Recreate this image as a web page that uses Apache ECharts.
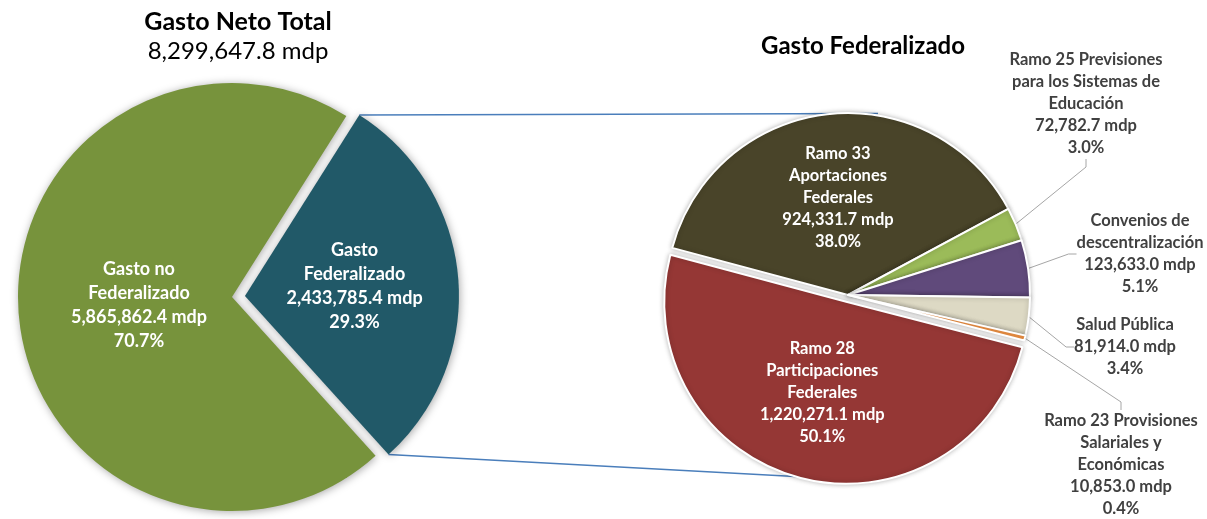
<!DOCTYPE html>
<html>
<head>
<meta charset="utf-8">
<script src="https://cdn.jsdelivr.net/npm/echarts@6/dist/echarts.min.js"></script>
<style>
  html, body { margin: 0; padding: 0; background: #fff; }
  #chart { width: 1207px; height: 519px; }
</style>
</head>
<body>
<div id="chart"></div>
<script>
// Gasto Neto Total (mdp)
const totalNames = ['Gasto\nFederalizado', 'Gasto no\nFederalizado']
const totalValues = [2433785.4, 5865862.4]

// Gasto Federalizado (mdp)
const fedNames = [
  'Ramo 33\nAportaciones\nFederales',
  'Ramo 25 Previsiones\npara los Sistemas de\nEducación',
  'Convenios de\ndescentralización',
  'Salud Pública',
  'Ramo 23 Provisiones\nSalariales y\nEconómicas',
  'Ramo 28\nParticipaciones\nFederales'
]
const fedValues = [924331.7, 72782.7, 123633.0, 81914.0, 10853.0, 1220271.1]

const leftColors = ['#215968', '#77933C']
const fedColors = ['#494429', '#9BBB59', '#604A7B', '#DDD9C4', '#F79646', '#953735']

// where each label sits (layout only)
const leftSpots = [[353, 297], [139, 305]]
const fedSpots = [[838, 198], [1086, 104], [1140, 254], [1125, 347], [1121, 465], [811, 390]]

const LEFT = { c: [232, 297], r: 214, start: 57.7, explode: 13 }
const RIGHT = { c: [848, 295], r: 182, start: 165, explode: 7 }

const fmt = v => v.toLocaleString('en-US', { minimumFractionDigits: 1, maximumFractionDigits: 1 })
const sum = arr => arr.reduce((a, b) => a + b, 0)
const font = 'Lato, "Open Sans", sans-serif'

function labelFor(values) {
  const total = sum(values)
  return p => p.name + '\n' + fmt(p.value) + ' mdp\n' + (p.value / total * 100).toFixed(1) + '%'
}

// connector lines between both pies, from the exploded slice to the right pie
function connectors() {
  const rad = d => d * Math.PI / 180
  const sweep = totalValues[0] / sum(totalValues) * 360
  const mid = rad(LEFT.start - sweep / 2)
  const ox = LEFT.c[0] + LEFT.explode * Math.cos(mid)
  const oy = LEFT.c[1] - LEFT.explode * Math.sin(mid)
  const a1 = rad(LEFT.start)
  const a2 = rad(LEFT.start - sweep)
  const p1 = [ox + LEFT.r * Math.cos(a1), oy - LEFT.r * Math.sin(a1)]
  const p2 = [ox + LEFT.r * Math.cos(a2), oy - LEFT.r * Math.sin(a2)]

  const fedTotal = sum(fedValues)
  const lastSweep = fedValues[5] / fedTotal * 360
  const redMid = rad(RIGHT.start - (360 - lastSweep / 2))
  const rx = RIGHT.c[0] + RIGHT.explode * Math.cos(redMid)
  const ry = RIGHT.c[1] - RIGHT.explode * Math.sin(redMid)
  const ex = RIGHT.c[0] + 30
  const topY = RIGHT.c[1] - Math.sqrt(RIGHT.r * RIGHT.r - 30 * 30) - 2
  const botY = ry + Math.sqrt(RIGHT.r * RIGHT.r - (ex - rx) * (ex - rx))
  const style = { stroke: '#4A7EBB', lineWidth: 1.5 }
  return [
    { type: 'line', z: -1, shape: { x1: p1[0], y1: p1[1], x2: ex, y2: topY }, style },
    { type: 'line', z: -1, shape: { x1: p2[0], y1: p2[1], x2: ex, y2: botY }, style }
  ]
}

const chart = echarts.init(document.getElementById('chart'))
chart.setOption({
  backgroundColor: '#fff',
  animation: false,
  title: [{
    text: 'Gasto Neto Total',
    subtext: '8,299,647.8 mdp',
    left: 233,
    top: 4,
    textAlign: 'center',
    itemGap: 5,
    textStyle: { fontFamily: font, fontWeight: 'bold', fontSize: 25, color: '#000' },
    subtextStyle: { fontFamily: font, fontSize: 24, color: '#000' }
  }, {
    text: 'Gasto Federalizado',
    left: 858,
    top: 29,
    textAlign: 'center',
    textStyle: { fontFamily: font, fontWeight: 'bold', fontSize: 24, color: '#000' }
  }],
  graphic: connectors(),
  series: [{
    type: 'pie',
    center: LEFT.c,
    radius: LEFT.r,
    startAngle: LEFT.start,
    selectedMode: 'single',
    selectedOffset: LEFT.explode,
    itemStyle: { shadowBlur: 8, shadowColor: 'rgba(0,0,0,0.35)', shadowOffsetX: 1, shadowOffsetY: 1 },
    emphasis: { disabled: true },
    label: {
      position: 'inside',
      formatter: labelFor(totalValues),
      fontFamily: font,
      fontWeight: 'bold',
      fontSize: 18,
      lineHeight: 24,
      color: '#fff',
      align: 'center',
      overflow: 'none'
    },
    labelLayout: p => ({ x: leftSpots[p.dataIndex][0], y: leftSpots[p.dataIndex][1], align: 'center', verticalAlign: 'middle' }),
    data: totalValues.map((v, i) => ({
      name: totalNames[i],
      value: v,
      selected: i === 0,
      itemStyle: { color: leftColors[i] }
    }))
  }, {
    type: 'pie',
    center: RIGHT.c,
    radius: RIGHT.r,
    startAngle: RIGHT.start,
    selectedMode: 'single',
    selectedOffset: RIGHT.explode,
    itemStyle: { borderColor: '#fff', borderWidth: 2, shadowBlur: 5, shadowColor: 'rgba(0,0,0,0.25)' },
    emphasis: { disabled: true },
    label: {
      formatter: labelFor(fedValues),
      fontFamily: font,
      fontWeight: 'bold',
      fontSize: 16.5,
      lineHeight: 22,
      align: 'center',
      overflow: 'none'
    },
    labelLine: { lineStyle: { color: '#A6A6A6', width: 1 }, length: 15, length2: 8 },
    labelLayout: p => ({ x: fedSpots[p.dataIndex][0], y: fedSpots[p.dataIndex][1], align: 'center', verticalAlign: 'middle' }),
    data: fedValues.map((v, i) => {
      const inside = i === 0 || i === 5
      return {
        name: fedNames[i],
        value: v,
        selected: i === 5,
        itemStyle: { color: fedColors[i] },
        label: { position: inside ? 'inside' : 'outside', color: inside ? '#fff' : '#404040' },
        labelLine: { show: !inside }
      }
    })
  }]
})
</script>
</body>
</html>
